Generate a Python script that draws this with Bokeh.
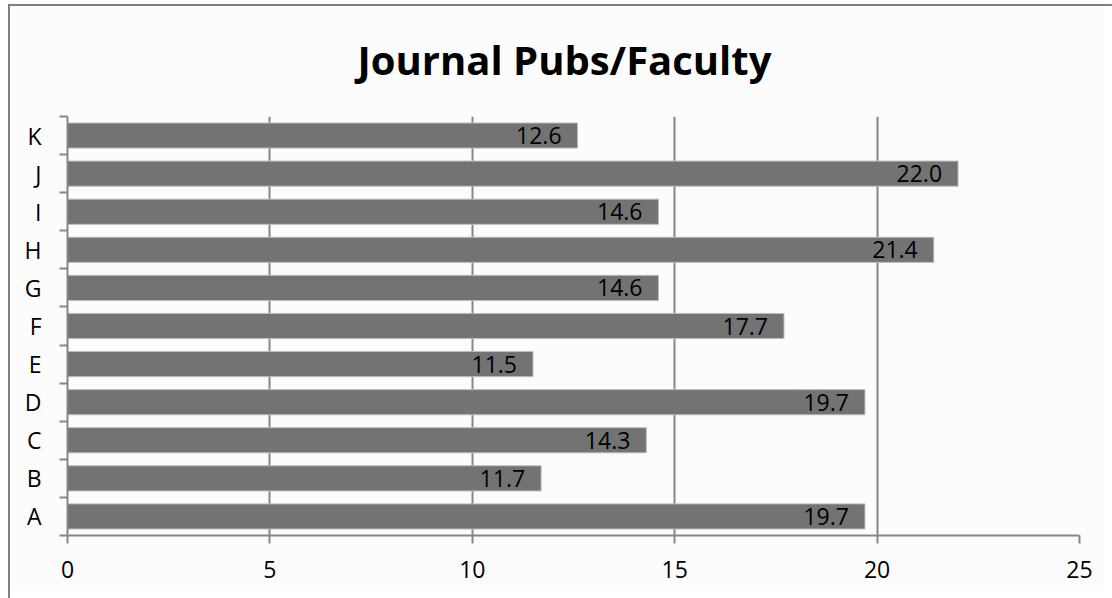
from bokeh.plotting import figure
from bokeh.models import ColumnDataSource, FixedTicker, Range1d, InlineStyleSheet
from bokeh.core.properties import value
from bokeh.embed import file_html
from bokeh.resources import INLINE

categories = ["A", "B", "C", "D", "E", "F", "G", "H", "I", "J", "K"]
values = [19.7, 11.7, 14.3, 19.7, 11.5, 17.7, 14.6, 21.4, 14.6, 22.0, 12.6]
x_ticks = [0, 5, 10, 15, 20, 25]
title_text = "Journal Pubs/Faculty"

FONT = "Open Sans"
BAR = "#737373"
GRID = "#868686"
BG = "#fcfcfc"

ypos = [i + 0.5 for i in range(len(categories))]
src = ColumnDataSource(dict(
    y=ypos, value=values, label=["%.1f" % v for v in values]))

p = figure(width=1104, height=590, output_backend="svg", toolbar_location=None,
           x_range=Range1d(0, 25), y_range=Range1d(0, len(categories)),
           min_border_left=67, min_border_right=25, min_border_top=116,
           min_border_bottom=55)
p.background_fill_color = BG
p.border_fill_color = BG
p.outline_line_color = None

# document box border (left and top edges visible in the crop)
p.stylesheets = [InlineStyleSheet(css="""
:host { position: relative; }
:host::after {
  content: ""; position: absolute; left: 8px; top: 4px; right: -10px; bottom: -10px;
  border-left: 2px solid #808080; border-top: 2px solid #808080;
  pointer-events: none; z-index: 10;
}
:host::before {
  content: ""; position: absolute; left: 0; top: 0; width: 8px; bottom: 0;
  background: #ffffff; pointer-events: none; z-index: 10;
}
""")]

p.title.text = title_text
p.title.text_font = FONT
p.title.text_font_size = "40px"
p.title.text_font_style = "bold"
p.title.align = "left"
p.title.offset = 290
p.title.vertical_align = "top"
p.title.text_color = "#000000"
p.title.standoff = 56

p.hbar(y="y", left=0, right="value", height=0.66, source=src,
       fill_color=BAR, line_color="#bdbdbd", line_width=1)
p.text(x="value", y="y", text="label", source=src, x_offset=-16,
       text_align="right", text_baseline="middle",
       text_font=value(FONT), text_font_size="23px", text_color="#000000")

# x axis
p.xaxis.ticker = FixedTicker(ticks=x_ticks)
p.xaxis.axis_line_color = GRID
p.xaxis.axis_line_width = 2
p.xaxis.major_tick_line_color = GRID
p.xaxis.major_tick_line_width = 2
p.xaxis.major_tick_out = 8
p.xaxis.major_tick_in = 0
p.xaxis.minor_tick_line_color = None
p.xaxis.major_label_text_font = FONT
p.xaxis.major_label_text_font_size = "23px"
p.xaxis.major_label_text_color = "#000000"
p.xaxis.major_label_standoff = 17

# y axis: labels at centers, ticks at category boundaries
p.yaxis.ticker = FixedTicker(ticks=ypos, minor_ticks=list(range(len(categories) + 1)))
p.yaxis.major_label_overrides = {y: c for y, c in zip(ypos, categories)}
p.yaxis.axis_line_color = GRID
p.yaxis.axis_line_width = 2
p.yaxis.major_tick_line_color = None
p.yaxis.major_tick_out = 0
p.yaxis.major_tick_in = 0
p.yaxis.minor_tick_line_color = GRID
p.yaxis.minor_tick_line_width = 2
p.yaxis.minor_tick_out = 8
p.yaxis.minor_tick_in = 0
p.yaxis.major_label_text_font = FONT
p.yaxis.major_label_text_font_size = "23px"
p.yaxis.major_label_text_color = "#000000"
p.yaxis.major_label_standoff = 18

p.xgrid.ticker = FixedTicker(ticks=x_ticks[1:])
p.xgrid.grid_line_color = GRID
p.xgrid.grid_line_width = 2
p.ygrid.grid_line_color = None

open("out.html", "w").write(file_html(p, INLINE))
